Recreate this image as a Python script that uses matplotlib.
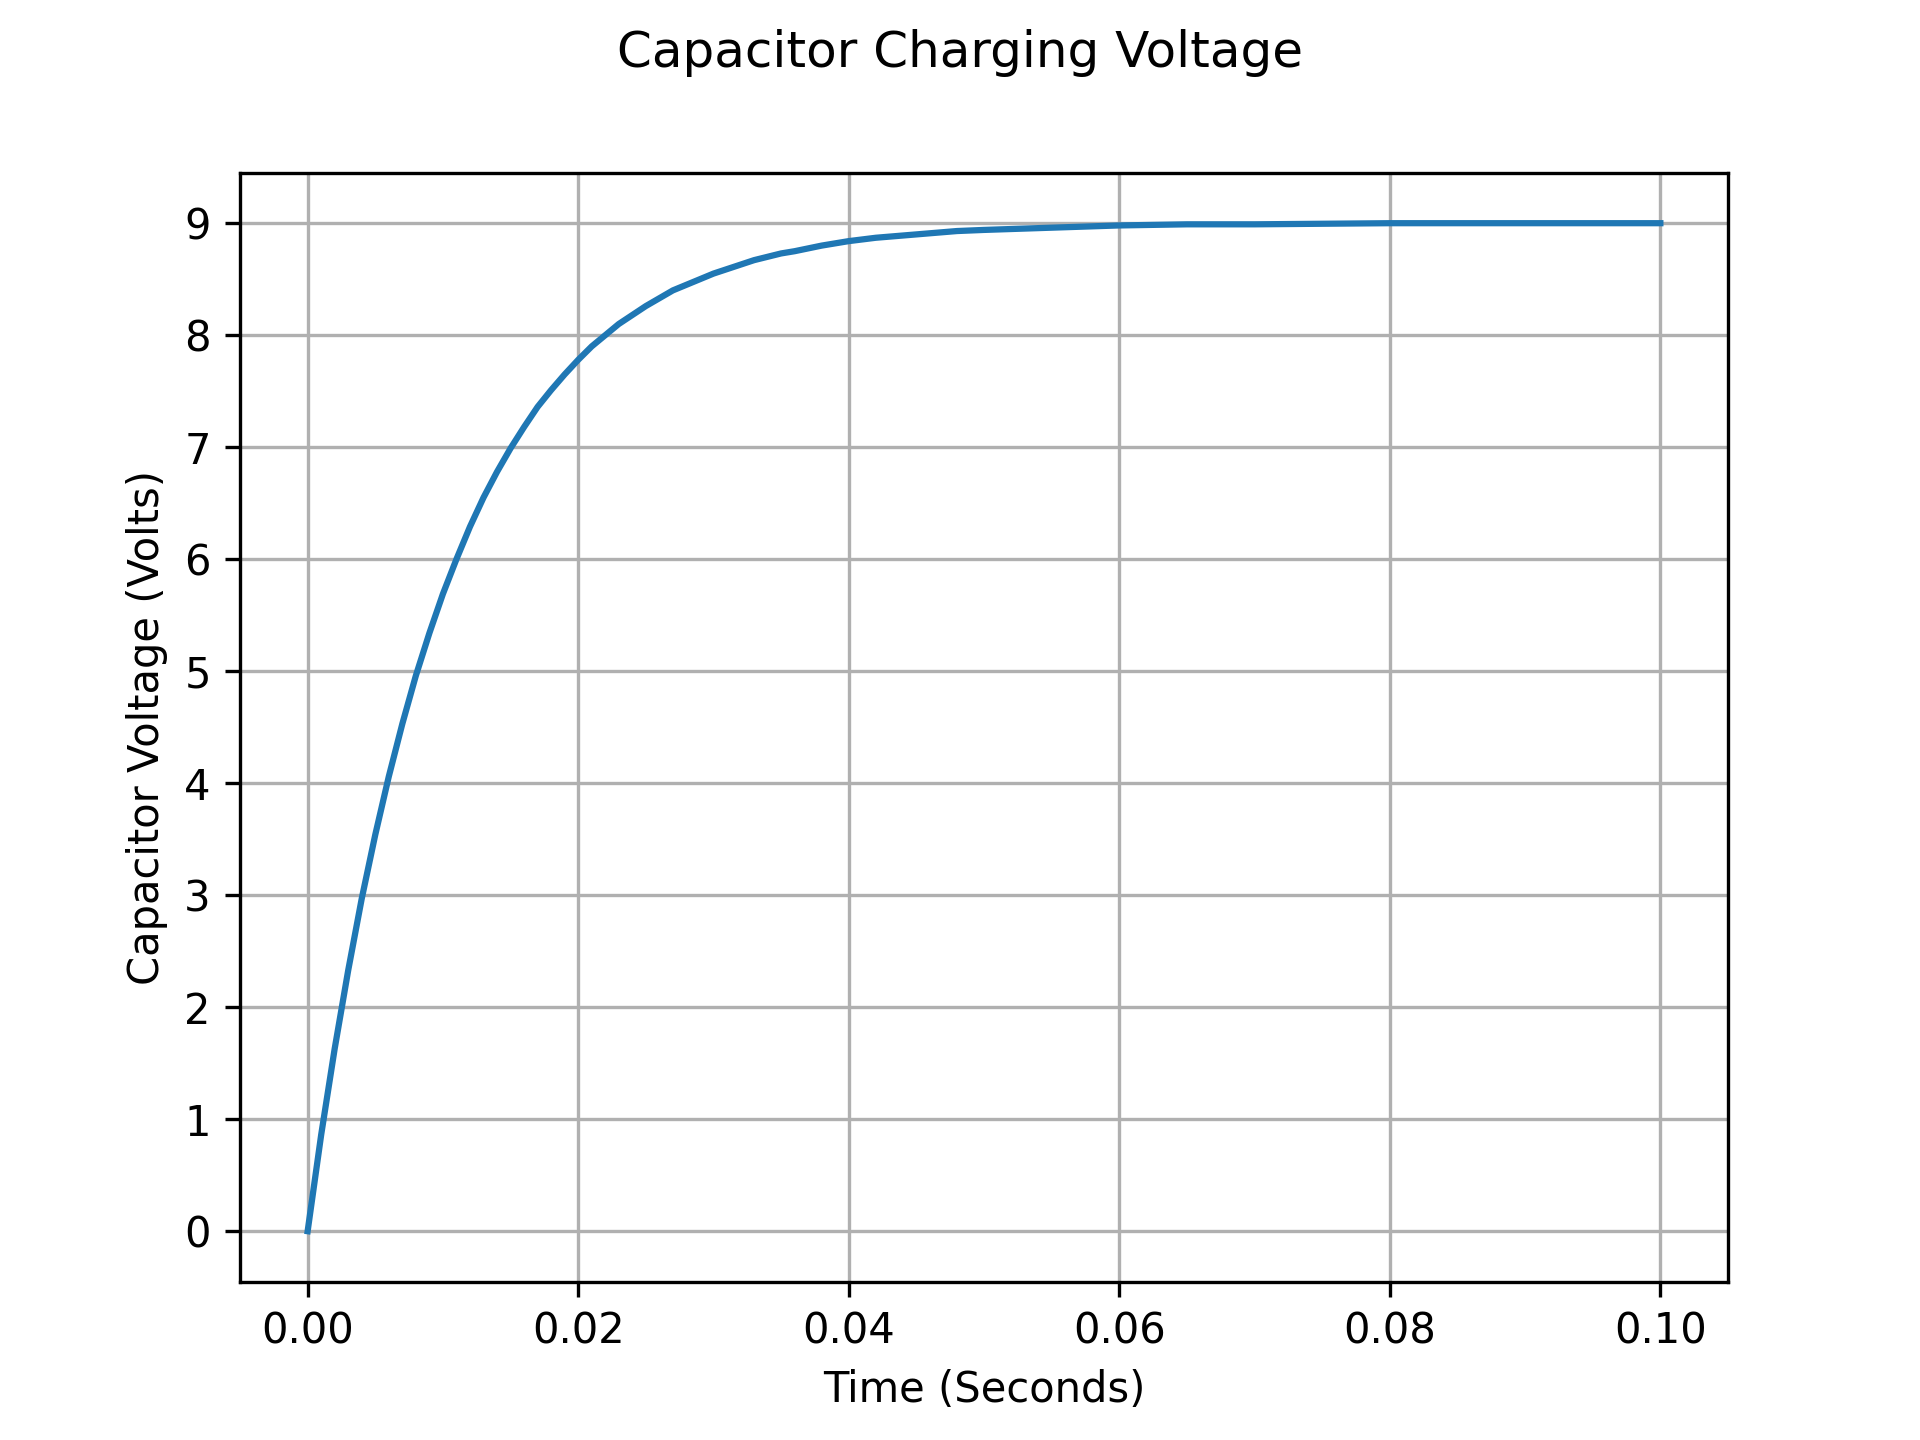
import matplotlib

matplotlib.use("Agg")
import matplotlib.pyplot as plt

# values
time_s = [0.000, 0.001, 0.002, 0.003, 0.004, 0.005, 0.006, 0.007, 0.008, 0.009,
          0.010, 0.011, 0.012, 0.013, 0.014, 0.015, 0.016, 0.017, 0.018, 0.019,
          0.020, 0.021, 0.022, 0.023, 0.024, 0.025, 0.026, 0.027, 0.028, 0.029,
          0.030, 0.031, 0.032, 0.033, 0.034, 0.035, 0.036, 0.038, 0.040, 0.042,
          0.045, 0.048, 0.050, 0.055, 0.060, 0.065, 0.070, 0.080, 0.090, 0.100]
voltage = [0.00, 0.86, 1.63, 2.33, 2.97, 3.54, 4.06, 4.53, 4.96, 5.34,
           5.69, 6.00, 6.29, 6.55, 6.78, 6.99, 7.18, 7.36, 7.51, 7.65,
           7.78, 7.90, 8.00, 8.10, 8.18, 8.26, 8.33, 8.40, 8.45, 8.50,
           8.55, 8.59, 8.63, 8.67, 8.70, 8.73, 8.75, 8.80, 8.84, 8.87,
           8.90, 8.93, 8.94, 8.96, 8.98, 8.99, 8.99, 9.00, 9.00, 9.00]
y_ticks = [0, 1, 2, 3, 4, 5, 6, 7, 8, 9]


def main() -> None:
    fig, ax = plt.subplots(figsize=(6.4, 4.8), dpi=300)
    ax.plot(time_s, voltage)
    ax.set_yticks(y_ticks)
    ax.set_xlabel("Time (Seconds)")
    ax.set_ylabel("Capacitor Voltage (Volts)")
    ax.grid(True)
    fig.suptitle("Capacitor Charging Voltage")
    fig.savefig("out.png", dpi=300)
    plt.close(fig)


if __name__ == "__main__":
    main()
